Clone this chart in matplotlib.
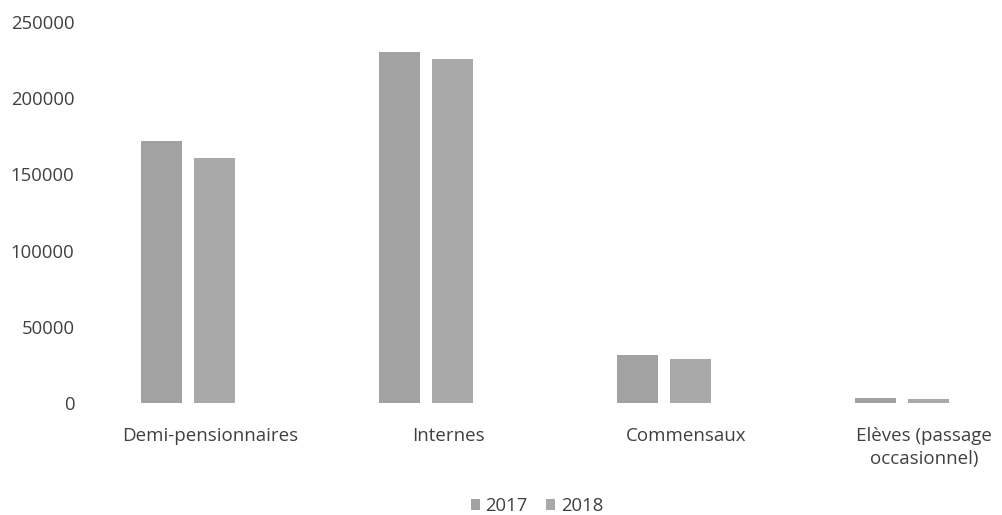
import numpy as np
import matplotlib.pyplot as plt
from matplotlib.transforms import ScaledTranslation

plt.rcParams['font.family'] = ['Open Sans', 'DejaVu Sans']

categories = ['Demi-pensionnaires', 'Internes', 'Commensaux', 'Elèves (passage\noccasionnel)']
years = ['2017', '2018']
vals_2017 = [172000, 230500, 31500, 3200]
vals_2018 = [160800, 225700, 28900, 2300]
yticks = [0, 50000, 100000, 150000, 200000, 250000]

fig = plt.figure(figsize=(10.03, 5.15), dpi=100)
ax = fig.add_axes([69 / 1003, 112 / 515, (1003 - 69) / 1003, 381 / 515])

x = np.arange(len(categories))
w = 0.172
ax.bar(x - 0.111, vals_2017, w, color='#a2a2a2', label=years[0])
ax.bar(x + 0.111, vals_2018, w, color='#a9a9a9', label=years[1])

ax.set_xlim(-0.5, 3.424)
ax.set_ylim(0, 250000)
ax.set_yticks(yticks)
ax.set_yticklabels([str(t) for t in yticks], fontsize=13.3, color='#404040')
ax.set_xticks(x)
ax.set_xticklabels(categories, fontsize=13.5, color='#404040', linespacing=1.35)
ax.tick_params(axis='y', length=0, pad=-4)
ax.tick_params(axis='x', length=0, pad=17)
# labels in the scan sit a bit right of the bar pairs
for lab in ax.get_xticklabels():
    lab.set_transform(lab.get_transform() + ScaledTranslation(0.22, 0, fig.dpi_scale_trans))
for s in ax.spines.values():
    s.set_visible(False)

fig.legend(loc='center', bbox_to_anchor=(537 / 1003, 1 - 506 / 515), ncol=2, frameon=False,
           fontsize=13.3, handlelength=0.5, handleheight=0.5, handletextpad=0.3,
           columnspacing=1.0, labelcolor='#404040')

fig.savefig('out.png', dpi=100)
